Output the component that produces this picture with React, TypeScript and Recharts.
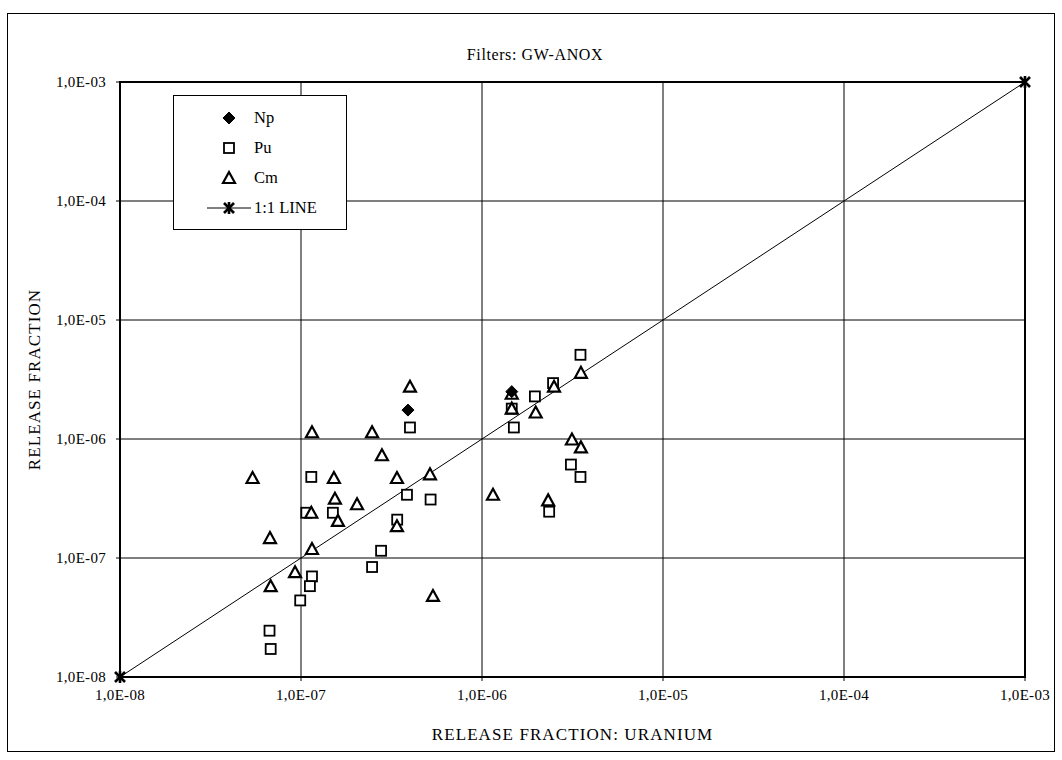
import React from 'react';
import {
  ScatterChart,
  Scatter,
  XAxis,
  YAxis,
  CartesianGrid,
  ReferenceArea,
  Label,
} from 'recharts';

const FONT = '"Liberation Serif", "Times New Roman", serif';

// Axis decades and their printed labels
const tickValues = [1e-8, 1e-7, 1e-6, 1e-5, 1e-4, 1e-3];
const tickLabels = ['1,0E-08', '1,0E-07', '1,0E-06', '1,0E-05', '1,0E-04', '1,0E-03'];

// Release fractions: x = uranium, y = nuclide
const npData = [
  { x: 3.9e-7, y: 1.75e-6 },
  { x: 1.46e-6, y: 2.5e-6 },
];

const puData = [
  { x: 4.0e-7, y: 1.25e-6 },
  { x: 1.14e-7, y: 4.8e-7 },
  { x: 3.85e-7, y: 3.4e-7 },
  { x: 5.2e-7, y: 3.1e-7 },
  { x: 1.07e-7, y: 2.4e-7 },
  { x: 1.5e-7, y: 2.4e-7 },
  { x: 3.4e-7, y: 2.1e-7 },
  { x: 2.77e-7, y: 1.15e-7 },
  { x: 1.15e-7, y: 7.0e-8 },
  { x: 1.12e-7, y: 5.8e-8 },
  { x: 2.47e-7, y: 8.4e-8 },
  { x: 9.9e-8, y: 4.4e-8 },
  { x: 6.7e-8, y: 2.45e-8 },
  { x: 6.8e-8, y: 1.72e-8 },
  { x: 3.5e-6, y: 5.1e-6 },
  { x: 2.47e-6, y: 2.95e-6 },
  { x: 1.96e-6, y: 2.28e-6 },
  { x: 1.46e-6, y: 1.8e-6 },
  { x: 1.5e-6, y: 1.25e-6 },
  { x: 3.1e-6, y: 6.1e-7 },
  { x: 3.5e-6, y: 4.8e-7 },
  { x: 2.35e-6, y: 2.45e-7 },
];

const cmData = [
  { x: 4.0e-7, y: 2.75e-6 },
  { x: 1.15e-7, y: 1.14e-6 },
  { x: 2.47e-7, y: 1.14e-6 },
  { x: 2.8e-7, y: 7.3e-7 },
  { x: 5.4e-8, y: 4.7e-7 },
  { x: 1.52e-7, y: 4.7e-7 },
  { x: 3.39e-7, y: 4.7e-7 },
  { x: 5.16e-7, y: 5.05e-7 },
  { x: 1.15e-6, y: 3.4e-7 },
  { x: 1.54e-7, y: 3.15e-7 },
  { x: 2.04e-7, y: 2.83e-7 },
  { x: 1.14e-7, y: 2.4e-7 },
  { x: 1.6e-7, y: 2.05e-7 },
  { x: 3.39e-7, y: 1.85e-7 },
  { x: 6.74e-8, y: 1.47e-7 },
  { x: 1.15e-7, y: 1.19e-7 },
  { x: 9.27e-8, y: 7.6e-8 },
  { x: 6.8e-8, y: 5.8e-8 },
  { x: 5.36e-7, y: 4.8e-8 },
  { x: 3.52e-6, y: 3.6e-6 },
  { x: 2.5e-6, y: 2.75e-6 },
  { x: 1.46e-6, y: 2.4e-6 },
  { x: 1.46e-6, y: 1.8e-6 },
  { x: 1.98e-6, y: 1.67e-6 },
  { x: 3.14e-6, y: 9.9e-7 },
  { x: 3.52e-6, y: 8.5e-7 },
  { x: 2.32e-6, y: 3.05e-7 },
];

const lineData = [
  { x: 1e-8, y: 1e-8 },
  { x: 1e-3, y: 1e-3 },
];

const seriesNames = ['Np', 'Pu', 'Cm', '1:1 LINE'];

const fmtTick = (v: number) => {
  const i = tickValues.findIndex((t) => Math.abs(Math.log10(t) - Math.log10(v)) < 1e-6);
  return i >= 0 ? tickLabels[i] : '';
};

// Marker glyphs
const Diamond = ({ cx, cy }: any) => (
  <path d={`M${cx},${cy - 6} L${cx + 6},${cy} L${cx},${cy + 6} L${cx - 6},${cy} Z`} fill="#000" stroke="#000" strokeWidth={1} />
);

const Square = ({ cx, cy }: any) => (
  <rect x={cx - 5} y={cy - 5} width={10} height={10} fill="#fff" stroke="#000" strokeWidth={1.8} />
);

const Triangle = ({ cx, cy }: any) => (
  <path d={`M${cx},${cy - 6} L${cx + 6},${cy + 5} L${cx - 6},${cy + 5} Z`} fill="#fff" stroke="#000" strokeWidth={2.2} strokeLinejoin="miter" />
);

const Star = ({ cx, cy }: any) => (
  <g stroke="#000" strokeWidth={2.6}>
    <line x1={cx - 5} y1={cy - 5} x2={cx + 5} y2={cy + 5} />
    <line x1={cx - 5} y1={cy + 5} x2={cx + 5} y2={cy - 5} />
    <line x1={cx} y1={cy - 6} x2={cx} y2={cy + 6} />
  </g>
);

const legendGlyph = (i: number) => {
  const c = 14;
  if (i === 0) return <Diamond cx={c} cy={10} />;
  if (i === 1) return <Square cx={c} cy={10} />;
  if (i === 2) return <Triangle cx={c} cy={10} />;
  return (
    <g>
      <line x1={c - 22} y1={10} x2={c + 22} y2={10} stroke="#000" strokeWidth={1} />
      <Star cx={c} cy={10} />
    </g>
  );
};

const LegendBox = () => (
  <div
    style={{
      position: 'absolute',
      left: 173,
      top: 95,
      width: 174,
      height: 135,
      border: '1px solid #000',
      background: '#fff',
      boxSizing: 'border-box',
      paddingTop: 7,
      fontFamily: FONT,
      fontSize: 16.5,
    }}
  >
    {seriesNames.map((n, i) => (
      <div key={n} style={{ display: 'flex', alignItems: 'center', height: 30 }}>
        <svg width={80} height={20} style={{ overflow: 'visible' }}>
          <g transform="translate(41,0)">{legendGlyph(i)}</g>
        </svg>
        <span>{n}</span>
      </div>
    ))}
  </div>
);

const tickStyle = { fill: '#000', fontFamily: FONT, fontSize: 15, letterSpacing: 0.3 };
const axisTitleStyle = { fill: '#000', fontFamily: FONT, fontSize: 17, letterSpacing: 1.1 };

export default function App() {
  return (
    <div style={{ position: 'absolute', left: 0, top: 0, width: 1062, height: 760, background: '#fff' }}>
      <div
        style={{
          position: 'absolute',
          left: 7,
          top: 13,
          width: 1048,
          height: 739,
          border: '1px solid #000',
          boxSizing: 'border-box',
        }}
      />
      <div
        style={{
          position: 'absolute',
          left: 0,
          width: 1070,
          top: 46,
          textAlign: 'center',
          fontFamily: FONT,
          fontSize: 16,
          letterSpacing: 0.6,
        }}
      >
        Filters: GW-ANOX
      </div>
      <div style={{ position: 'absolute', left: 0, top: 0 }}>
        <ScatterChart width={1062} height={760} margin={{ top: 82, right: 37, bottom: 53, left: 60 }}>
          <CartesianGrid stroke="#000" strokeWidth={1} horizontal vertical />
          <XAxis
            type="number"
            dataKey="x"
            scale="log"
            domain={[1e-8, 1e-3]}
            ticks={tickValues}
            tickFormatter={fmtTick}
            height={30}
            axisLine={{ stroke: '#000', strokeWidth: 2 }}
            tickLine={{ stroke: '#000' }}
            tickSize={4}
            tickMargin={8}
            tick={tickStyle}
            interval={0}
          >
            <Label value="RELEASE FRACTION: URANIUM" position="bottom" offset={21} style={axisTitleStyle} />
          </XAxis>
          <YAxis
            type="number"
            dataKey="y"
            scale="log"
            domain={[1e-8, 1e-3]}
            ticks={tickValues}
            tickFormatter={fmtTick}
            width={60}
            axisLine={{ stroke: '#000', strokeWidth: 2 }}
            tickLine={{ stroke: '#000' }}
            tickSize={4}
            tickMargin={10}
            tick={tickStyle}
            interval={0}
          >
            <Label
              content={({ viewBox }: any) => {
                const x = 34;
                const y = viewBox.y + viewBox.height / 2;
                return (
                  <text
                    x={x}
                    y={y}
                    transform={`rotate(-90 ${x} ${y})`}
                    textAnchor="middle"
                    dominantBaseline="central"
                    style={axisTitleStyle}
                  >
                    RELEASE FRACTION
                  </text>
                );
              }}
            />
          </YAxis>
          <ReferenceArea x1={1e-8} x2={1e-3} y1={1e-8} y2={1e-3} fill="none" stroke="#000" strokeWidth={2} />
          <Scatter name="1:1 LINE" data={lineData} line={{ stroke: '#000', strokeWidth: 1 }} shape={Star} isAnimationActive={false} />
          <Scatter name="Pu" data={puData} shape={Square} isAnimationActive={false} />
          <Scatter name="Cm" data={cmData} shape={Triangle} isAnimationActive={false} />
          <Scatter name="Np" data={npData} shape={Diamond} isAnimationActive={false} />
        </ScatterChart>
      </div>
      <LegendBox />
    </div>
  );
}
